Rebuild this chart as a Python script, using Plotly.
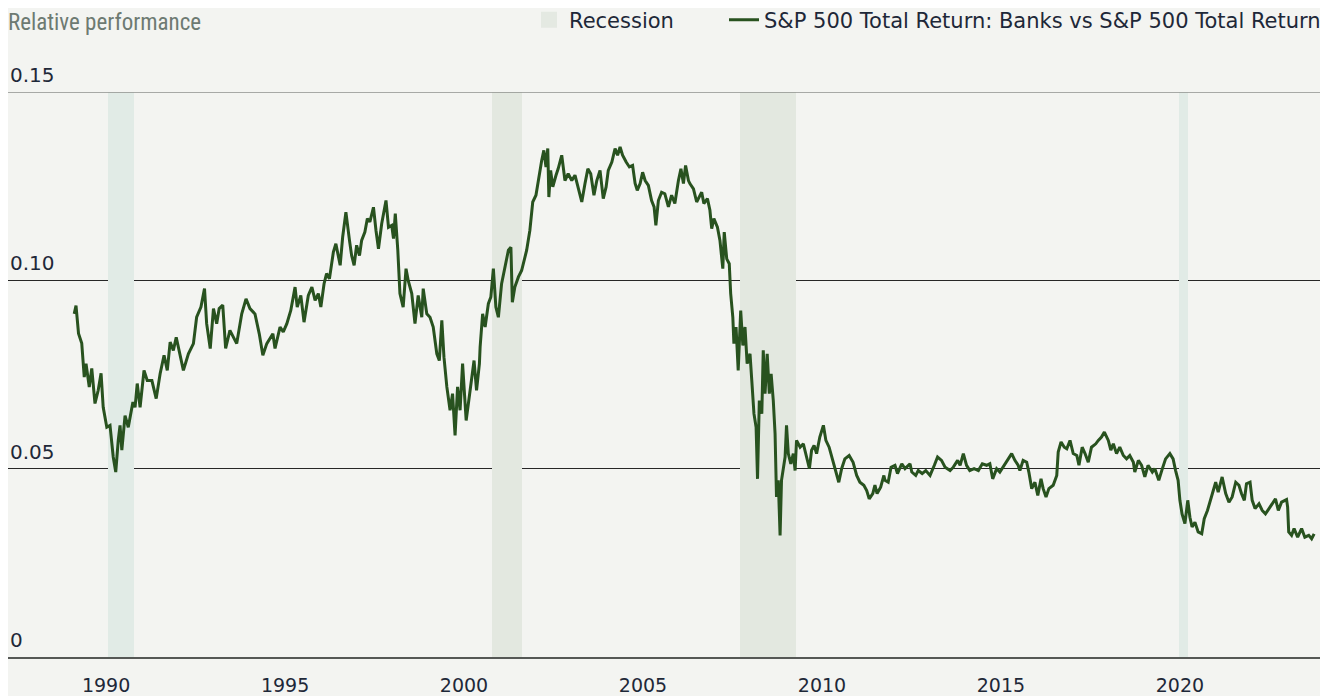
import plotly.graph_objects as go

# Banks vs S&P 500 total return ratio (decimal years)
years = [
    1989.11, 1989.16, 1989.23, 1989.32, 1989.39, 1989.44, 1989.53, 1989.60, 1989.69, 1989.78,
    1989.86, 1989.92, 1990.02, 1990.11, 1990.20, 1990.27, 1990.34, 1990.39, 1990.44, 1990.53,
    1990.62, 1990.75, 1990.81, 1990.87, 1990.95, 1991.06, 1991.15, 1991.28, 1991.40, 1991.51,
    1991.62, 1991.71, 1991.79, 1991.88, 1991.96, 1992.07, 1992.16, 1992.30, 1992.44, 1992.53,
    1992.65, 1992.75, 1992.81, 1992.91, 1993.00, 1993.09, 1993.16, 1993.26, 1993.34, 1993.46,
    1993.56, 1993.65, 1993.79, 1993.91, 1994.02, 1994.16, 1994.28, 1994.38, 1994.49, 1994.66,
    1994.72, 1994.86, 1994.95, 1995.05, 1995.16, 1995.28, 1995.34, 1995.44, 1995.53, 1995.65,
    1995.75, 1995.84, 1995.93, 1996.00, 1996.09, 1996.16, 1996.24, 1996.35, 1996.42, 1996.54,
    1996.61, 1996.70, 1996.80, 1996.86, 1996.93, 1997.00, 1997.08, 1997.14, 1997.23, 1997.30,
    1997.37, 1997.47, 1997.54, 1997.61, 1997.70, 1997.82, 1997.89, 1997.98, 1998.03, 1998.08,
    1998.15, 1998.21, 1998.30, 1998.38, 1998.44, 1998.54, 1998.63, 1998.72, 1998.82, 1998.86,
    1998.96, 1999.05, 1999.14, 1999.24, 1999.31, 1999.38, 1999.44, 1999.52, 1999.61, 1999.68,
    1999.75, 1999.82, 1999.89, 1999.96, 2000.06, 2000.15, 2000.21, 2000.28, 2000.35, 2000.43,
    2000.45, 2000.52, 2000.59, 2000.68, 2000.75, 2000.82, 2000.89, 2000.96, 2001.05, 2001.15,
    2001.24, 2001.31, 2001.35, 2001.42, 2001.52, 2001.61, 2001.68, 2001.75, 2001.84, 2001.92,
    2002.01, 2002.10, 2002.17, 2002.23, 2002.29, 2002.34, 2002.37, 2002.42, 2002.48, 2002.57,
    2002.63, 2002.73, 2002.82, 2002.91, 2003.01, 2003.10, 2003.17, 2003.29, 2003.38, 2003.46,
    2003.54, 2003.63, 2003.71, 2003.80, 2003.89, 2003.97, 2004.03, 2004.13, 2004.22, 2004.29,
    2004.36, 2004.43, 2004.53, 2004.62, 2004.71, 2004.78, 2004.84, 2004.92, 2004.99, 2005.06,
    2005.15, 2005.24, 2005.31, 2005.36, 2005.43, 2005.52, 2005.61, 2005.71, 2005.80, 2005.89,
    2005.99, 2006.06, 2006.13, 2006.19, 2006.27, 2006.31, 2006.41, 2006.50, 2006.64, 2006.70,
    2006.80, 2006.87, 2006.92, 2006.98, 2007.08, 2007.15, 2007.23, 2007.27, 2007.34, 2007.41,
    2007.45, 2007.51, 2007.54, 2007.60, 2007.66, 2007.73, 2007.79, 2007.85, 2007.91, 2007.99,
    2008.04, 2008.10, 2008.16, 2008.20, 2008.25, 2008.32, 2008.36, 2008.41, 2008.47, 2008.53,
    2008.58, 2008.64, 2008.69, 2008.73, 2008.78, 2008.83, 2008.87, 2008.92, 2008.97, 2009.01,
    2009.06, 2009.13, 2009.20, 2009.25, 2009.29, 2009.39, 2009.48, 2009.57, 2009.65, 2009.71,
    2009.78, 2009.85, 2009.94, 2010.04, 2010.11, 2010.20, 2010.30, 2010.39, 2010.47, 2010.55,
    2010.64, 2010.76, 2010.87, 2010.97, 2011.06, 2011.17, 2011.25, 2011.32, 2011.42, 2011.48,
    2011.54, 2011.64, 2011.73, 2011.76, 2011.85, 2011.93, 2012.04, 2012.11, 2012.23, 2012.32,
    2012.46, 2012.51, 2012.62, 2012.69, 2012.80, 2012.90, 2013.02, 2013.14, 2013.23, 2013.34,
    2013.44, 2013.58, 2013.67, 2013.79, 2013.86, 2013.95, 2014.04, 2014.13, 2014.25, 2014.37,
    2014.48, 2014.60, 2014.69, 2014.77, 2014.88, 2014.97, 2015.09, 2015.19, 2015.30, 2015.39,
    2015.48, 2015.53, 2015.62, 2015.72, 2015.78, 2015.86, 2015.95, 2016.03, 2016.12, 2016.18,
    2016.26, 2016.34, 2016.46, 2016.56, 2016.60, 2016.68, 2016.77, 2016.84, 2016.93, 2017.02,
    2017.12, 2017.18, 2017.27, 2017.35, 2017.44, 2017.53, 2017.65, 2017.72, 2017.81, 2017.89,
    2018.00, 2018.07, 2018.14, 2018.23, 2018.32, 2018.42, 2018.51, 2018.60, 2018.70, 2018.74,
    2018.84, 2018.93, 2019.02, 2019.11, 2019.23, 2019.30, 2019.41, 2019.51, 2019.60, 2019.72,
    2019.81, 2019.88, 2019.95, 2020.00, 2020.06, 2020.14, 2020.22, 2020.28, 2020.34, 2020.42,
    2020.51, 2020.61, 2020.68, 2020.77, 2020.87, 2020.93, 2021.00, 2021.07, 2021.18, 2021.28,
    2021.37, 2021.46, 2021.56, 2021.65, 2021.72, 2021.80, 2021.86, 2021.96, 2022.02, 2022.10,
    2022.21, 2022.30, 2022.39, 2022.49, 2022.56, 2022.67, 2022.75, 2022.84, 2022.98, 2023.01,
    2023.04, 2023.12, 2023.19, 2023.29, 2023.40, 2023.49, 2023.60, 2023.68, 2023.75,
]
rel_perf = [
    0.0911, 0.0933, 0.0859, 0.0833, 0.0743, 0.0779, 0.0717, 0.0766, 0.0673, 0.0708,
    0.0753, 0.0663, 0.0610, 0.0615, 0.0531, 0.0491, 0.0575, 0.0615, 0.0549, 0.0641,
    0.0610, 0.0677, 0.0663, 0.0726, 0.0663, 0.0761, 0.0734, 0.0734, 0.0686, 0.0752,
    0.0801, 0.0761, 0.0836, 0.0814, 0.0849, 0.0796, 0.0761, 0.0805, 0.0832, 0.0902,
    0.0929, 0.0978, 0.0885, 0.0819, 0.0925, 0.0885, 0.0925, 0.0934, 0.0819, 0.0867,
    0.0849, 0.0832, 0.0911, 0.0951, 0.0925, 0.0911, 0.0858, 0.0801, 0.0832, 0.0858,
    0.0819, 0.0876, 0.0863, 0.0885, 0.0920, 0.0982, 0.0929, 0.0960, 0.0889, 0.0960,
    0.0982, 0.0947, 0.0965, 0.0929, 0.0991, 0.1018, 0.1004, 0.1075, 0.1097, 0.1040,
    0.1115, 0.1181, 0.1106, 0.1066, 0.1040, 0.1093, 0.1066, 0.1106, 0.1128, 0.1164,
    0.1155, 0.1194, 0.1133, 0.1084, 0.1150, 0.1212, 0.1141, 0.1146, 0.1111, 0.1177,
    0.1080, 0.0965, 0.0929, 0.1031, 0.1000, 0.0965, 0.0885, 0.0960, 0.0902, 0.0978,
    0.0911, 0.0902, 0.0876, 0.0805, 0.0787, 0.0894, 0.0796, 0.0717, 0.0655, 0.0699,
    0.0588, 0.0717, 0.0655, 0.0779, 0.0628, 0.0690, 0.0734, 0.0787, 0.0708, 0.0779,
    0.0823, 0.0911, 0.0876, 0.0938, 0.0956, 0.1031, 0.0929, 0.0902, 0.0991, 0.1035,
    0.1080, 0.1088, 0.0942, 0.0982, 0.1009, 0.1026, 0.1053, 0.1080, 0.1133, 0.1208,
    0.1226, 0.1283, 0.1318, 0.1345, 0.1301, 0.1350, 0.1221, 0.1292, 0.1248, 0.1279,
    0.1296, 0.1332, 0.1265, 0.1283, 0.1265, 0.1279, 0.1252, 0.1208, 0.1257, 0.1296,
    0.1283, 0.1226, 0.1265, 0.1292, 0.1217, 0.1248, 0.1292, 0.1314, 0.1350, 0.1332,
    0.1354, 0.1332, 0.1314, 0.1301, 0.1305, 0.1257, 0.1239, 0.1257, 0.1287, 0.1265,
    0.1252, 0.1212, 0.1195, 0.1146, 0.1212, 0.1234, 0.1230, 0.1195, 0.1226, 0.1204,
    0.1265, 0.1296, 0.1257, 0.1305, 0.1265, 0.1257, 0.1243, 0.1208, 0.1234, 0.1204,
    0.1217, 0.1186, 0.1137, 0.1164, 0.1141, 0.1106, 0.1031, 0.1128, 0.1057, 0.1044,
    0.0965, 0.0902, 0.0832, 0.0876, 0.0761, 0.0920, 0.0827, 0.0876, 0.0779, 0.0805,
    0.0734, 0.0646, 0.0610, 0.0473, 0.0681, 0.0646, 0.0814, 0.0699, 0.0805, 0.0699,
    0.0752, 0.0681, 0.0593, 0.0425, 0.0469, 0.0323, 0.0469, 0.0495, 0.0531, 0.0615,
    0.0540, 0.0513, 0.0540, 0.0495, 0.0575, 0.0557, 0.0566, 0.0531, 0.0500, 0.0549,
    0.0562, 0.0540, 0.0584, 0.0615, 0.0575, 0.0557, 0.0522, 0.0491, 0.0464, 0.0500,
    0.0526, 0.0535, 0.0517, 0.0482, 0.0464, 0.0456, 0.0442, 0.0420, 0.0434, 0.0456,
    0.0434, 0.0451, 0.0482, 0.0469, 0.0464, 0.0504, 0.0509, 0.0487, 0.0513, 0.0500,
    0.0513, 0.0491, 0.0482, 0.0495, 0.0487, 0.0495, 0.0482, 0.0509, 0.0531, 0.0522,
    0.0504, 0.0495, 0.0504, 0.0522, 0.0509, 0.0540, 0.0509, 0.0495, 0.0500, 0.0495,
    0.0513, 0.0509, 0.0513, 0.0473, 0.0500, 0.0491, 0.0509, 0.0526, 0.0540, 0.0522,
    0.0509, 0.0495, 0.0522, 0.0517, 0.0491, 0.0447, 0.0464, 0.0429, 0.0473, 0.0447,
    0.0425, 0.0447, 0.0456, 0.0482, 0.0544, 0.0571, 0.0557, 0.0553, 0.0575, 0.0540,
    0.0535, 0.0509, 0.0557, 0.0540, 0.0517, 0.0557, 0.0566, 0.0575, 0.0584, 0.0597,
    0.0575, 0.0549, 0.0566, 0.0540, 0.0557, 0.0535, 0.0526, 0.0535, 0.0517, 0.0491,
    0.0522, 0.0509, 0.0478, 0.0509, 0.0491, 0.0500, 0.0469, 0.0500, 0.0526, 0.0540,
    0.0526, 0.0495, 0.0469, 0.0416, 0.0380, 0.0354, 0.0416, 0.0371, 0.0345, 0.0358,
    0.0332, 0.0327, 0.0367, 0.0389, 0.0425, 0.0442, 0.0464, 0.0438, 0.0478, 0.0434,
    0.0411, 0.0425, 0.0464, 0.0456, 0.0434, 0.0416, 0.0460, 0.0464, 0.0416, 0.0394,
    0.0407, 0.0389, 0.0380, 0.0394, 0.0403, 0.0420, 0.0389, 0.0411, 0.0418, 0.0398,
    0.0332, 0.0323, 0.0341, 0.0318, 0.0341, 0.0318, 0.0323, 0.0314, 0.0327,
]

# recession shading, start / end in decimal years as drawn
recession_start = [1990.06, 2000.78, 2007.71, 2019.97]
recession_end = [1990.78, 2001.62, 2009.27, 2020.22]
recession_colors = ["#e1ebe6", "#e3e8e0", "#e3e8e0", "#e1ebe6"]

x_ticks = [1990, 1995, 2000, 2005, 2010, 2015, 2020]
y_ticks = [0, 0.05, 0.10, 0.15]
y_ticktext = ["0", "0.05", "0.10", "0.15"]

BG = "#f3f4f1"
TXT = "#1e2838"
FONT = "'DejaVu Sans', Inter, sans-serif"

# page body has an 8px margin, so the figure is 8px smaller than the window
W, H = 1320, 688

fig = go.Figure()

rec_mid = [(s + e) / 2 for s, e in zip(recession_start, recession_end)]
rec_w = [e - s for s, e in zip(recession_start, recession_end)]
fig.add_trace(go.Bar(
    name="Recession", x=rec_mid, y=[0.15] * len(rec_mid), width=rec_w,
    marker=dict(color=recession_colors, line=dict(width=0)),
    hoverinfo="skip", showlegend=False,
))
# legend entry only: bigger square swatch than the bar one
fig.add_trace(go.Scatter(
    name="Recession", x=[None], y=[None], mode="markers",
    marker=dict(symbol="square", size=18, color="#e4e9e2"), legend="legend",
))

fig.add_trace(go.Scatter(
    name="S&P 500 Total Return: Banks vs S&P 500 Total Return",
    x=years, y=rel_perf, mode="lines",
    line=dict(color="#28521f", width=3), legend="legend2",
))

# top border line at 0.15 is lighter than the inner gridlines
fig.add_shape(type="line", xref="paper", x0=0, x1=1, yref="y", y0=0.15, y1=0.15,
              line=dict(color="#8e918d", width=1.5), layer="above")

# y labels sit above their gridlines, at the left edge
for v, t in zip(y_ticks, y_ticktext):
    fig.add_annotation(x=0, xref="paper", xanchor="left", y=v, yref="y", yanchor="middle",
                       yshift=17, text=t, showarrow=False,
                       font=dict(family=FONT, size=20, color=TXT))

leg = dict(orientation="h", xref="paper", xanchor="left",
           yref="container", y=1 - 12 / H, yanchor="middle",
           font=dict(family=FONT, size=21, color=TXT),
           bgcolor="rgba(0,0,0,0)", itemwidth=30)

fig.update_layout(
    width=W, height=H,
    paper_bgcolor=BG, plot_bgcolor=BG,
    margin=dict(l=0, r=6, t=84, b=39, autoexpand=False),
    font=dict(family=FONT, size=19, color=TXT),
    bargap=0,
    showlegend=True,
    legend=dict(leg, x=521 / 1314),
    legend2=dict(leg, x=716 / 1314),
    title=dict(text="Relative performance", x=0, xanchor="left",
               y=1 - 14 / H, yanchor="middle",
               font=dict(family="'Liberation Sans Narrow', 'Roboto Condensed', 'DejaVu Sans Condensed', sans-serif",
                         size=23, color="#6d7a72")),
    xaxis=dict(range=[1987.26, 2023.97], tickvals=x_ticks, ticks="", automargin=False,
               showgrid=False, zeroline=False, showline=True, linecolor="#555855", linewidth=2,
               tickfont=dict(size=19, color=TXT), ticklabelstandoff=10),
    yaxis=dict(range=[0, 0.15], tickvals=y_ticks, showticklabels=False, ticks="", automargin=False,
               showgrid=True, gridcolor="#262626", gridwidth=1,
               zeroline=False, showline=False),
)

fig.write_html("out.html")
